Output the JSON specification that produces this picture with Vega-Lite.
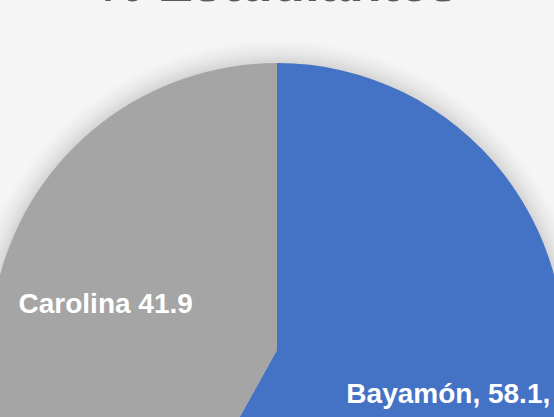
{
  "$schema": "https://vega.github.io/schema/vega-lite/v6.json",
  "width": 554,
  "height": 700,
  "autosize": {"type": "none"},
  "padding": 0,
  "background": "#f5f5f5",
  "config": {"view": {"stroke": null}},
  "data": {
    "values": [
      {"lugar": "Bayamón", "pct": 58.1, "label": "Bayamón, 58.1,"},
      {"lugar": "Carolina", "pct": 41.9, "label": "Carolina 41.9"}
    ]
  },
  "layer": [
    {
      "data": {"values": [{"s": 1}]},
      "mark": {
        "type": "arc",
        "outerRadius": 310,
        "theta": 0,
        "theta2": 6.2832,
        "fill": {
          "gradient": "radial",
          "x1": 0.5, "y1": 0.5, "r1": 0,
          "x2": 0.5, "y2": 0.5, "r2": 0.5,
          "stops": [
            {"offset": 0, "color": "#c8c8c8"},
            {"offset": 0.92, "color": "#d2d2d2"},
            {"offset": 0.96, "color": "#e8e8e8"},
            {"offset": 1, "color": "#f5f5f5"}
          ]
        }
      },
      "encoding": {}
    },
    {
      "mark": {"type": "arc", "outerRadius": 287},
      "encoding": {
        "theta": {"field": "pct", "type": "quantitative", "stack": true},
        "order": {"field": "pct", "sort": "descending"},
        "color": {
          "field": "lugar",
          "type": "nominal",
          "scale": {"domain": ["Bayamón", "Carolina"], "range": ["#4472C4", "#A5A5A5"]},
          "legend": null
        }
      }
    },
    {
      "mark": {
        "type": "text",
        "radius": 177,
        "font": "Liberation Sans",
        "fontWeight": "bold",
        "fontSize": 28,
        "fill": "white"
      },
      "encoding": {
        "theta": {"field": "pct", "type": "quantitative", "stack": true},
        "order": {"field": "pct", "sort": "descending"},
        "text": {"field": "label"}
      }
    },
    {
      "data": {"values": [{"titulo": "% Estudiantes"}]},
      "mark": {
        "type": "text",
        "theta": 0,
        "radius": 349,
        "font": "Liberation Sans",
        "fontWeight": "bold",
        "fontSize": 53,
        "fill": "#595959",
        "align": "center",
        "baseline": "alphabetic"
      },
      "encoding": {
        "text": {"field": "titulo"}
      }
    }
  ]
}
